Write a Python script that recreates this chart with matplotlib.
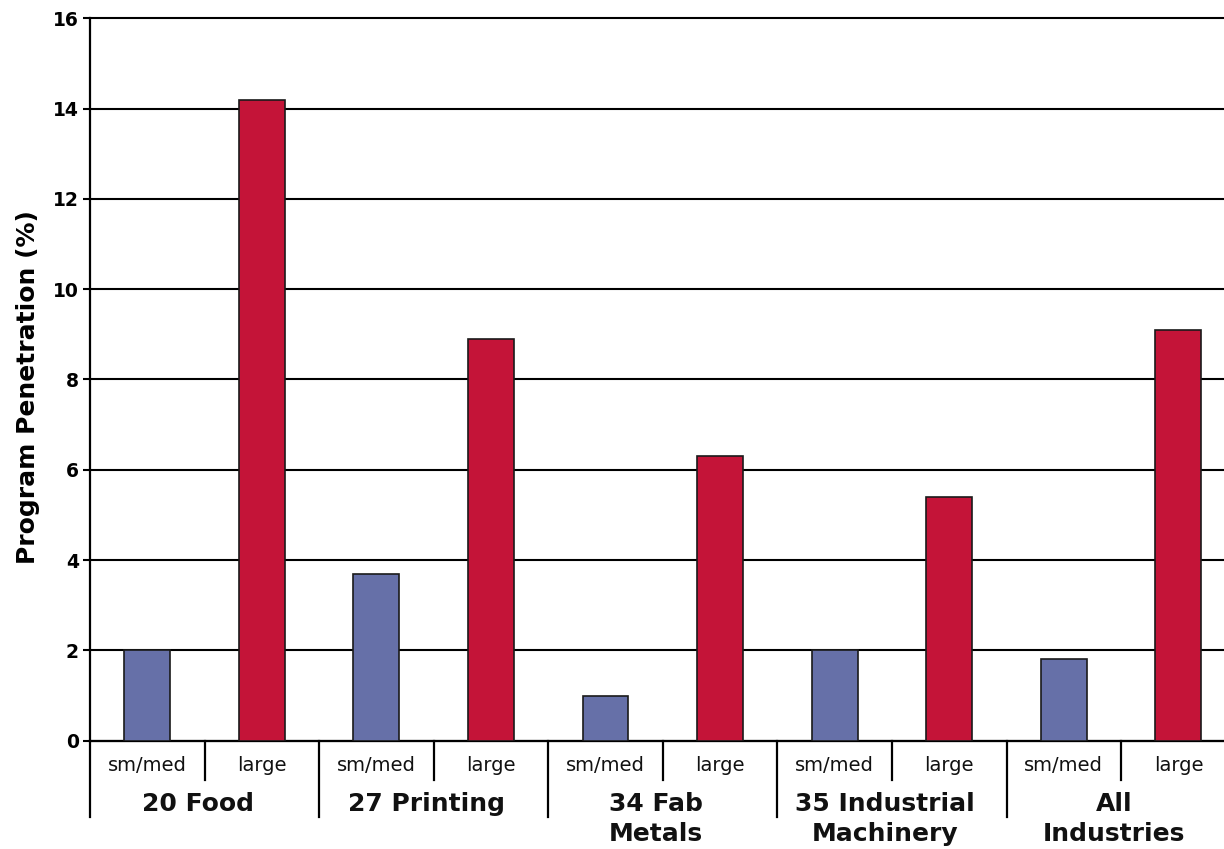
import matplotlib
matplotlib.use("Agg")
import matplotlib.pyplot as plt
import numpy as np

# Program penetration by industry and firm size
groups = ["20 Food", "27 Printing", "34 Fab\nMetals", "35 Industrial\nMachinery", "All\nIndustries"]
sizes = ["sm/med", "large"]
sm_med = [2.0, 3.7, 1.0, 2.0, 1.8]
large = [14.2, 8.9, 6.3, 5.4, 9.1]
y_ticks = [0, 2, 4, 6, 8, 10, 12, 14, 16]
y_label = "Program Penetration (%)"

BLUE = "#6670A8"
RED = "#C41438"

fig = plt.figure(figsize=(12.24, 8.49), dpi=100)
ax = fig.add_axes([0.0735, 0.1276, 0.9265, 0.8509])

n = len(groups)
slots = np.arange(2 * n)
values = []
colors = []
for s, l in zip(sm_med, large):
    values += [s, l]
    colors += [BLUE, RED]

ax.bar(slots, values, width=0.4, color=colors, edgecolor="#1a1a1a",
       linewidth=1.2, zorder=3)

ax.set_xlim(-0.5, 9.398)
ax.set_ylim(0, 16)
ax.set_yticks(y_ticks)
ax.set_yticklabels([str(t) for t in y_ticks], fontsize=13.5, fontweight="bold",
                   family="DejaVu Sans")
ax.tick_params(axis="y", length=5, width=1.5, pad=3, color="black")
ax.set_xticks([])

ax.yaxis.grid(True, color="black", linewidth=1.5, zorder=0)
for gl in ax.get_ygridlines():
    gl.set_clip_on(False)
ax.set_axisbelow(True)

for side in ("top", "right"):
    ax.spines[side].set_visible(False)
ax.spines["left"].set_linewidth(1.6)
ax.spines["bottom"].set_linewidth(1.6)

trans = ax.get_xaxis_transform()

# size labels and dividers under each bar
for i in slots:
    ax.text(i, -0.035, sizes[i % 2], transform=trans, ha="center", va="center",
            fontsize=14, family="DejaVu Sans", color="#111111")
for g in range(n):
    ax.plot([2 * g + 0.5, 2 * g + 0.5], [0, -0.054], transform=trans,
            color="black", lw=1.6, clip_on=False)
    ax.plot([2 * g - 0.5, 2 * g - 0.5], [0, -0.1056], transform=trans,
            color="black", lw=1.6, clip_on=False)
    ax.text(2 * g + 0.5 - 0.06, -0.071, groups[g], transform=trans,
            ha="center", va="top", fontsize=18, fontweight="bold",
            family="DejaVu Sans", linespacing=1.3, color="#111111")

fig.text(28 / 1224, 1 - 387 / 849, y_label, rotation=90, ha="center",
         va="center", fontsize=18, fontweight="bold", family="DejaVu Sans")

fig.savefig("out.png", dpi=100)
